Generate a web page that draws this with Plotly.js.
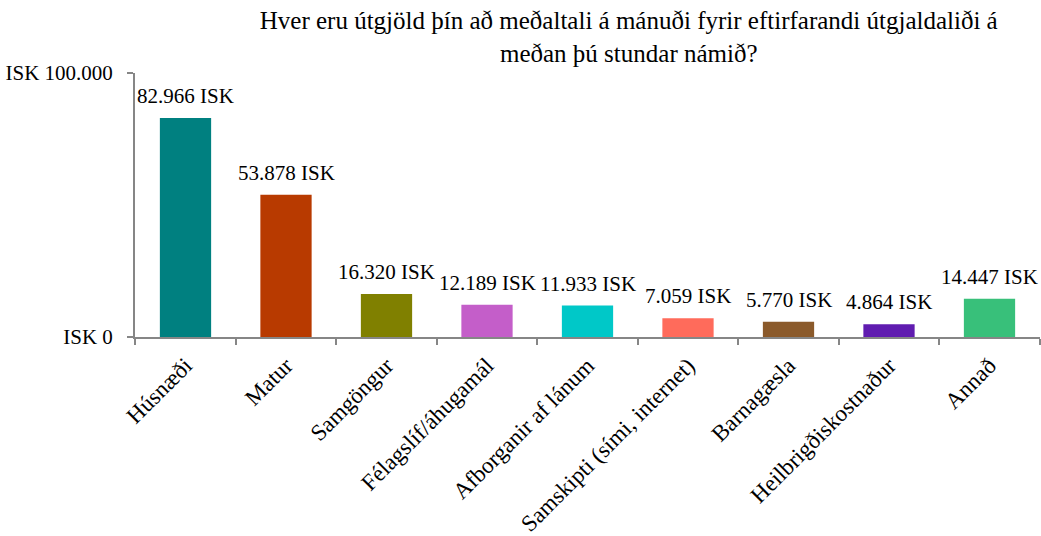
<!DOCTYPE html>
<html>
<head>
<meta charset="utf-8">
<script src="https://cdn.plot.ly/plotly-3.0.1.min.js"></script>
<style>html,body{margin:0;padding:0;background:#fff;}#chart{width:1041px;height:536px;}</style>
</head>
<body>
<div id="chart"></div>
<script>
const categories = ["Húsnæði", "Matur", "Samgöngur", "Félagslíf/áhugamál", "Afborganir af lánum", "Samskipti (sími, internet)", "Barnagæsla", "Heilbrigðiskostnaður", "Annað"];
const values = [82966, 53878, 16320, 12189, 11933, 7059, 5770, 4864, 14447];
const valueLabels = ["82.966 ISK", "53.878 ISK", "16.320 ISK", "12.189 ISK", "11.933 ISK", "7.059 ISK", "5.770 ISK", "4.864 ISK", "14.447 ISK"];
const barColors = ["#008080", "#B83A00", "#808000", "#C45EC9", "#00C8C8", "#FF6B5B", "#8B5A2B", "#601CB0", "#38C07A"];
const yTickVals = [0, 100000];
const yTickText = ["ISK 0", "ISK 100.000"];
const titleText = "Hver eru útgjöld þín að meðaltali á mánuði fyrir eftirfarandi útgjaldaliði á<br>meðan þú stundar námið?";

const FONT = "'Liberation Serif', 'Times New Roman', serif";

const trace = {
  type: "bar",
  x: categories,
  y: values,
  marker: {color: barColors, line: {width: 0}},
  hoverinfo: "none"
};

const annotations = categories.map((c, i) => ({
  x: c, y: values[i], xref: "x", yref: "y",
  text: valueLabels[i], showarrow: false,
  yshift: 22, yanchor: "middle",
  font: {family: FONT, size: 21, color: "#000"}
}));

const layout = {
  width: 1041, height: 536,
  margin: {l: 135, r: 1, t: 73, b: 199},
  paper_bgcolor: "#fff", plot_bgcolor: "#fff",
  font: {family: FONT, size: 21, color: "#000"},
  showlegend: false,
  bargap: 0.49,
  title: {
    text: titleText,
    font: {family: FONT, size: 25, color: "#000"},
    xref: "container", x: 0.604, xanchor: "center",
    yref: "container", y: 0.945, yanchor: "middle"
  },
  xaxis: {
    type: "category",
    tickangle: -45,
    showline: true, linecolor: "#868686", linewidth: 2,
    ticks: "outside", ticklen: 6, tickcolor: "#868686", tickwidth: 2,
    tickson: "boundaries",
    ticklabelstandoff: 4,
    showgrid: false, zeroline: false,
    tickfont: {family: FONT, size: 23, color: "#000"}
  },
  yaxis: {
    range: [0, 100000],
    tickvals: yTickVals, ticktext: yTickText,
    showline: true, linecolor: "#868686", linewidth: 2,
    ticks: "outside", ticklen: 6, tickcolor: "#868686", tickwidth: 2,
    ticklabelstandoff: 10,
    showgrid: false, zeroline: false,
    tickfont: {family: FONT, size: 21, color: "#000"}
  },
  annotations: annotations
};

Plotly.newPlot("chart", [trace], layout, {displayModeBar: false, staticPlot: true});
</script>
</body>
</html>
